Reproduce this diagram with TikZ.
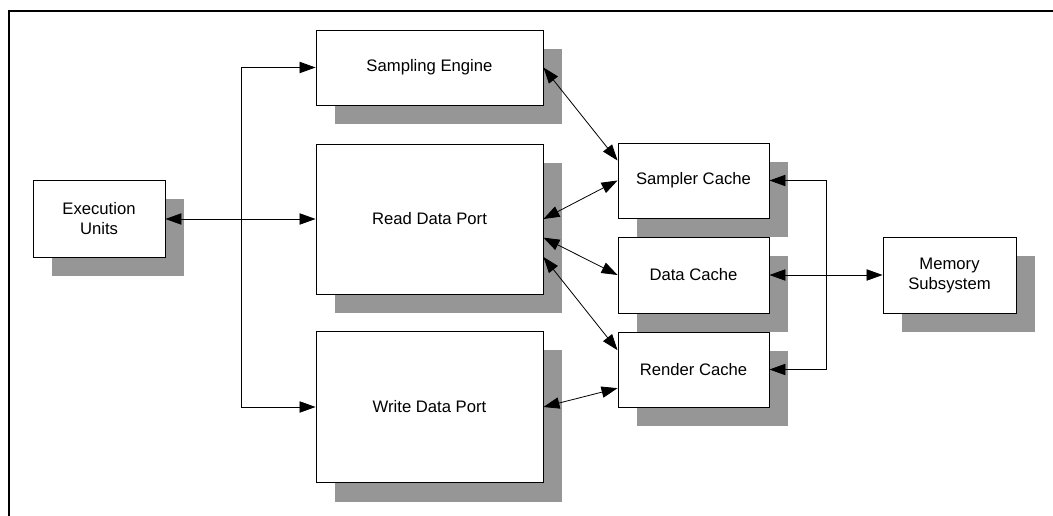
\documentclass[tikz,border=0pt]{standalone}
\usepackage{fontspec}
\setmainfont{Liberation Sans}
\usetikzlibrary{positioning,calc,arrows.meta,shadows}
\definecolor{shadowgray}{RGB}{150,150,150}

\begin{document}
\begin{tikzpicture}[x=0.75pt, y=-0.75pt,
  >={Triangle[length=12pt,width=8.5pt]},
  blk/.style={draw, fill=white, line width=0.7pt, inner sep=0pt, align=center,
    font=\fontsize{12.5}{15}\selectfont,
    drop shadow={shadow xshift=14.25pt, shadow yshift=-14.25pt, fill=shadowgray, opacity=1}},
  link/.style={line width=0.6pt}]
\useasboundingbox (0,0) rectangle (1053,516);
\draw[line width=2pt] (9,530) -- (9,11) -- (1070,11);

\node[blk, minimum width=99pt, minimum height=57.75pt] (exec) at (99,219) {Execution\\Units};
\node[blk, minimum width=170.25pt, minimum height=56.25pt] (se) at (429.5,67.5) {Sampling Engine};
\node[blk, minimum width=170.25pt, minimum height=112.5pt] (rdp) at (429.5,219) {Read Data Port};
\node[blk, minimum width=170.25pt, minimum height=113.25pt] (wdp) at (429.5,407) {Write Data Port};
\node[blk, minimum width=113.25pt, minimum height=56.25pt] (sc) at (693.5,180.5) {Sampler Cache};
\node[blk, minimum width=113.25pt, minimum height=57pt] (dc) at (693.5,275) {Data Cache};
\node[blk, minimum width=113.25pt, minimum height=56.25pt] (rc) at (693.5,369.5) {Render Cache};
\node[blk, minimum width=99.75pt, minimum height=57pt] (mem) at (949.5,275) {Memory\\Subsystem};

% left bus
\coordinate (lbus) at (241,219);
\draw[link,<->] (exec.east) -- (rdp.west);
\draw[link,->] (lbus) |- (se.west);
\draw[link,->] (lbus) |- (wdp.west);

% ports to caches
\draw[link,<->] (se.east) -- ([yshift=15pt]sc.west);
\draw[link,<->] (rdp.east) -- (sc.west);
\draw[link,<->] ([yshift=-14pt]rdp.east) -- (dc.west);
\draw[link,<->] ([yshift=-28.5pt]rdp.east) -- ([yshift=14.5pt]rc.west);
\draw[link,<->] (wdp.east) -- ([yshift=-14pt]rc.west);

% right bus
\coordinate (rbus) at (826,275);
\draw[link,->] (rbus) |- (sc.east);
\draw[link,->] (rbus) |- (rc.east);
\draw[link,<->] (dc.east) -- (mem.west);
\end{tikzpicture}
\end{document}
